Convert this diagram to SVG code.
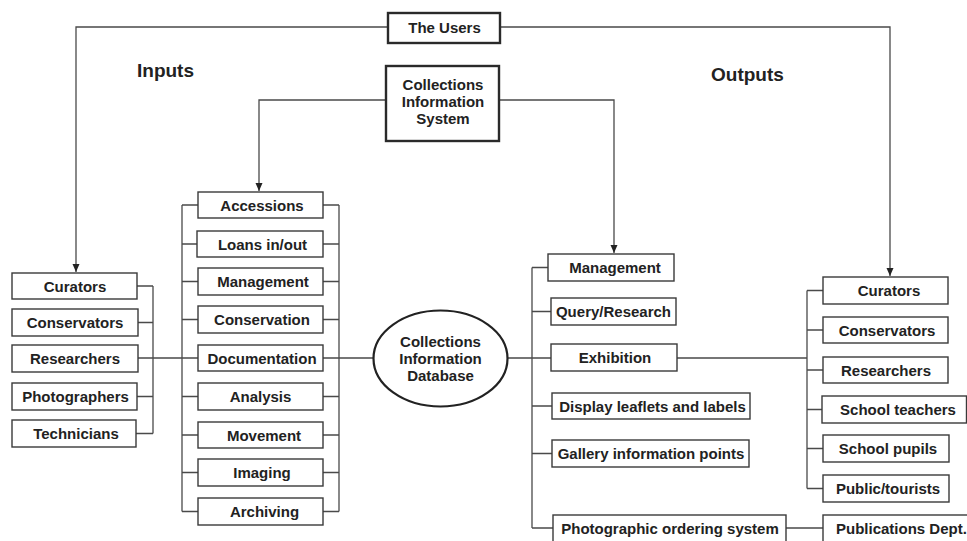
<svg xmlns="http://www.w3.org/2000/svg" width="967" height="541" viewBox="0 0 967 541">
<style>
  .box { fill: #ffffff; stroke: #3a3a3a; stroke-width: 1.4; }
  .thick { fill: #ffffff; stroke: #2a2a2a; stroke-width: 2.4; }
  .ell { fill: #ffffff; stroke: #222222; stroke-width: 2.2; }
  .ln { fill: none; stroke: #4a4a4a; stroke-width: 1.3; }
  text { font-family: "Liberation Sans", Arial, Helvetica, sans-serif; font-weight: bold; font-size: 15px; fill: #222222; text-anchor: middle; }
  .head { font-size: 19px; text-anchor: start; }
</style>
<defs>
  <marker id="arr" markerUnits="userSpaceOnUse" markerWidth="8" markerHeight="8" refX="8" refY="3.5" orient="auto">
    <path d="M0,0 L8,3.5 L0,7 Z" fill="#222222"/>
  </marker>
</defs>
<rect width="967" height="541" fill="#ffffff"/>

<text class="head" x="137" y="77">Inputs</text>
<text class="head" x="711" y="81">Outputs</text>

<g id="connectors">
  <path class="ln" d="M388,27 H76 V272" marker-end="url(#arr)"/>
  <path class="ln" d="M500,27 H890 V276" marker-end="url(#arr)"/>
  <path class="ln" d="M386,100 H259 V191" marker-end="url(#arr)"/>
  <path class="ln" d="M499,100 H614 V253" marker-end="url(#arr)"/>
  <!-- left user bracket -->
  <path class="ln" d="M137,286 H153 M138,322.5 H153 M138,358 H198 M137,396.5 H153 M136,433.5 H153 M153,286 V433.5"/>
  <!-- middle bracket -->
  <path class="ln" d="M182,205 V511.5 M339,205 V511.5"/>
  <path class="ln" d="M182,205 H198 M182,244 H197 M182,281.5 H198 M182,319.5 H198 M182,396.5 H198 M182,435 H198 M182,472.5 H198 M182,511.5 H198"/>
  <path class="ln" d="M323,205 H339 M323,244 H339 M323,281.5 H339 M323,319.5 H339 M323,358 H373.5 M323,396.5 H339 M323,435 H339 M323,472.5 H339 M323,511.5 H339"/>
  <!-- output bracket -->
  <path class="ln" d="M507.5,358 H551 M532,267.5 V528 M532,267.5 H548 M532,311.5 H551 M532,406 H552 M532,453.5 H552 M532,528 H553"/>
  <path class="ln" d="M677,358 H807 M786,528 H823"/>
  <!-- right user bracket -->
  <path class="ln" d="M807,290.5 V488.5 M807,290.5 H823 M807,330 H823 M807,370 H823 M807,409.5 H822 M807,448.5 H823 M807,488.5 H823"/>
</g>

<g id="users"><rect class="thick" x="388" y="13" width="112" height="30"/><text x="444.5" y="33">The Users</text></g>
<g id="cis"><rect class="thick" x="386" y="66" width="113" height="75"/><text x="443" y="90">Collections</text><text x="443" y="107">Information</text><text x="443" y="124">System</text></g>

<g id="in-curators"><rect class="box" x="12" y="273" width="125" height="26"/><text x="75" y="291.5">Curators</text></g>
<g id="in-conservators"><rect class="box" x="12" y="309" width="126" height="27"/><text x="75" y="328">Conservators</text></g>
<g id="in-researchers"><rect class="box" x="12" y="345" width="126" height="27"/><text x="75" y="364">Researchers</text></g>
<g id="in-photographers"><rect class="box" x="12" y="383" width="125" height="27"/><text x="75.5" y="402">Photographers</text></g>
<g id="in-technicians"><rect class="box" x="12" y="420" width="124" height="27"/><text x="76" y="439">Technicians</text></g>

<g id="accessions"><rect class="box" x="198" y="192" width="125" height="26"/><text x="262" y="210.5">Accessions</text></g>
<g id="loans"><rect class="box" x="197" y="231" width="126" height="26"/><text x="262.5" y="249.5">Loans in/out</text></g>
<g id="in-management"><rect class="box" x="198" y="268" width="125" height="27"/><text x="263" y="287">Management</text></g>
<g id="conservation"><rect class="box" x="198" y="306" width="125" height="27"/><text x="262" y="325">Conservation</text></g>
<g id="documentation"><rect class="box" x="198" y="345" width="125" height="26"/><text x="262" y="363.5">Documentation</text></g>
<g id="analysis"><rect class="box" x="198" y="383" width="125" height="27"/><text x="260.5" y="402">Analysis</text></g>
<g id="movement"><rect class="box" x="198" y="422" width="125" height="26"/><text x="264" y="440.5">Movement</text></g>
<g id="imaging"><rect class="box" x="198" y="459" width="125" height="27"/><text x="262" y="478">Imaging</text></g>
<g id="archiving"><rect class="box" x="198" y="498" width="125" height="27"/><text x="264.5" y="517">Archiving</text></g>

<g id="cid"><ellipse class="ell" cx="440.5" cy="358.5" rx="67" ry="48"/><text x="440.5" y="347">Collections</text><text x="440.5" y="364">Information</text><text x="440.5" y="381">Database</text></g>

<g id="out-management"><rect class="box" x="548" y="254" width="126" height="27"/><text x="615" y="273">Management</text></g>
<g id="query"><rect class="box" x="551" y="298" width="125" height="27"/><text x="613.5" y="317">Query/Research</text></g>
<g id="exhibition"><rect class="box" x="551" y="344" width="126" height="27"/><text x="615" y="363">Exhibition</text></g>
<g id="display"><rect class="box" x="552" y="393" width="198" height="26"/><text x="652.5" y="411.5">Display leaflets and labels</text></g>
<g id="gallery"><rect class="box" x="552" y="440" width="197" height="27"/><text x="651" y="459">Gallery information points</text></g>
<g id="photographic"><rect class="box" x="553" y="515" width="233" height="30"/><text x="670" y="533.5">Photographic ordering system</text></g>

<g id="out-curators"><rect class="box" x="823" y="277" width="125" height="27"/><text x="889" y="296">Curators</text></g>
<g id="out-conservators"><rect class="box" x="823" y="317" width="125" height="26"/><text x="887" y="335.5">Conservators</text></g>
<g id="out-researchers"><rect class="box" x="823" y="357" width="125" height="26"/><text x="886" y="375.5">Researchers</text></g>
<g id="teachers"><rect class="box" x="822" y="396" width="144.5" height="27"/><text x="898" y="415">School teachers</text></g>
<g id="pupils"><rect class="box" x="823" y="435" width="126" height="27"/><text x="888" y="454">School pupils</text></g>
<g id="public"><rect class="box" x="823" y="475" width="126" height="27"/><text x="888" y="494">Public/tourists</text></g>
<g id="publications"><rect class="box" x="823" y="515" width="200" height="30"/><text x="836" y="533.5" style="text-anchor:start">Publications Dept.</text></g>
</svg>
